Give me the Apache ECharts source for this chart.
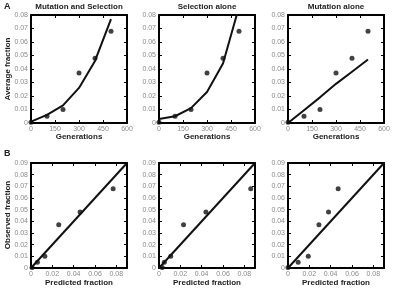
<!DOCTYPE html>
<html>
<head>
<meta charset="utf-8">
<script src="https://cdn.jsdelivr.net/npm/echarts@6/dist/echarts.min.js"></script>
<style>
    html, body { margin: 0; padding: 0; background: #fff; }
    #main { width: 397px; height: 288px; }
</style>
</head>
<body>
<div id="main"></div>
<script>
    // data
    var generations = [0, 100, 200, 300, 400, 500];
    var observed = [0.0005, 0.005, 0.010, 0.037, 0.048, 0.068];
    var predMutSel = [0.001, 0.006, 0.013, 0.026, 0.046, 0.077];
    var predSel = [0.003, 0.005, 0.011, 0.023, 0.044, 0.086];
    var predMut = [0, 0.0095, 0.019, 0.029, 0.038, 0.047];
    var titles = ['Mutation and Selection', 'Selection alone', 'Mutation alone'];
    var diagonal = [0, 0.09];

    var FONT = 'Liberation Sans, Arial, sans-serif';
    var lefts = [31, 159, 288];
    var preds = [predMutSel, predSel, predMut];

    var grids = [], xAxes = [], yAxes = [], series = [], graphics = [];

    function axisPair(gi, kind, opts) {
        // main axis with labels + mirrored axis with inward ticks only
        var list = kind === 'x' ? xAxes : yAxes;
        var base = {
            gridIndex: gi,
            type: 'value',
            min: opts.min, max: opts.max, interval: opts.interval,
            axisLine: { show: true, onZero: false, lineStyle: { color: '#000', width: 2 } },
            axisTick: { show: true, inside: true, length: 3, lineStyle: { color: '#000', width: 1 } },
            splitLine: { show: false }
        };
        var main = Object.assign({}, base, {
            position: kind === 'x' ? 'bottom' : 'left',
            axisLabel: {
                color: '#8a8a8a', fontSize: 7, fontFamily: FONT, margin: 3,
                showMaxLabel: opts.showMax !== false,
                formatter: function (v) { return v === 0 ? '0' : (opts.decimals ? v.toFixed(opts.decimals) : String(v)); }
            }
        });
        var mirror = Object.assign({}, base, {
            position: kind === 'x' ? 'top' : 'right',
            axisLabel: { show: false }
        });
        list.push(main);
        list.push(mirror);
        return list.length - 2;
    }

    for (var i = 0; i < 3; i++) {
        // top row: fraction vs generations
        grids.push({ left: lefts[i], top: 15, width: 96, height: 108 });
        var g = grids.length - 1;
        var xi = axisPair(g, 'x', { min: 0, max: 600, interval: 150 });
        var yi = axisPair(g, 'y', { min: 0, max: 0.08, interval: 0.01, decimals: 2 });
        series.push({
            type: 'line', xAxisIndex: xi, yAxisIndex: yi,
            data: generations.map(function (d, k) { return [d, preds[i][k]]; }),
            symbol: 'none', clip: true,
            lineStyle: { color: '#111', width: 2 }
        });
        series.push({
            type: 'scatter', xAxisIndex: xi, yAxisIndex: yi,
            data: generations.map(function (d, k) { return [d, observed[k]]; }),
            symbolSize: 5, itemStyle: { color: '#111' }, clip: false
        });

        // bottom row: observed vs predicted
        grids.push({ left: lefts[i], top: 163, width: 96, height: 105 });
        g = grids.length - 1;
        xi = axisPair(g, 'x', { min: 0, max: 0.09, interval: 0.02, decimals: 2, showMax: false });
        yi = axisPair(g, 'y', { min: 0, max: 0.09, interval: 0.01, decimals: 2 });
        series.push({
            type: 'line', xAxisIndex: xi, yAxisIndex: yi,
            data: [[diagonal[0], diagonal[0]], [diagonal[1], diagonal[1]]],
            symbol: 'none', lineStyle: { color: '#111', width: 2 }
        });
        series.push({
            type: 'scatter', xAxisIndex: xi, yAxisIndex: yi,
            data: preds[i].map(function (p, k) { return [p, observed[k]]; }),
            symbolSize: 5, itemStyle: { color: '#111' }, clip: false
        });

        var cx = lefts[i] + 48;
        graphics.push({ type: 'text', x: cx, y: 7, style: { text: titles[i], font: 'bold 8px ' + FONT, fill: '#222', align: 'center', verticalAlign: 'middle' } });
        graphics.push({ type: 'text', x: cx, y: 137, style: { text: 'Generations', font: 'bold 8px ' + FONT, fill: '#222', align: 'center', verticalAlign: 'middle' } });
        graphics.push({ type: 'text', x: cx, y: 283, style: { text: 'Predicted fraction', font: 'bold 8px ' + FONT, fill: '#222', align: 'center', verticalAlign: 'middle' } });
    }

    graphics.push({ type: 'text', x: 4, y: 7, style: { text: 'A', font: 'bold 9px ' + FONT, fill: '#222', verticalAlign: 'middle' } });
    graphics.push({ type: 'text', x: 4, y: 154, style: { text: 'B', font: 'bold 9px ' + FONT, fill: '#222', verticalAlign: 'middle' } });
    graphics.push({ type: 'text', x: 8, y: 69, rotation: Math.PI / 2, style: { text: 'Average fraction', font: 'bold 8px ' + FONT, fill: '#222', align: 'center', verticalAlign: 'middle' } });
    graphics.push({ type: 'text', x: 8, y: 215, rotation: Math.PI / 2, style: { text: 'Observed fraction', font: 'bold 8px ' + FONT, fill: '#222', align: 'center', verticalAlign: 'middle' } });

    var chart = echarts.init(document.getElementById('main'), null, { renderer: 'canvas' });
    chart.setOption({
        animation: false,
        backgroundColor: '#fff',
        grid: grids,
        xAxis: xAxes,
        yAxis: yAxes,
        series: series,
        graphic: graphics
    });
</script>
</body>
</html>
